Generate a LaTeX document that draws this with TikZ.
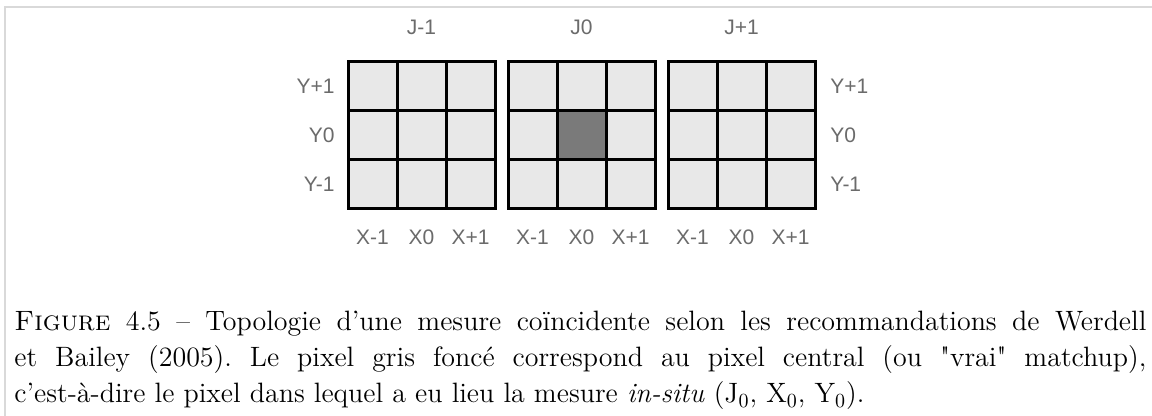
\documentclass[tikz,border=0pt]{standalone}
\usepackage{fontspec}
\newfontfamily\labelfont{Liberation Sans}
\newfontfamily\plainquote{Latin Modern Roman}[Ligatures=TeXOff]
\usepackage{tikz}

\begin{document}
\begin{tikzpicture}[
  x=0.5pt, y=-0.5pt,
  cell/.style={fill=black!9},
  hotcell/.style={fill=black!52},
  gridline/.style={draw=black, line width=1.5pt, line cap=rect},
  lbl/.style={font=\labelfont\fontsize{10.5}{12}\selectfont, text=black!58, inner sep=0pt},
  caption/.style={font=\fontsize{14}{18}\selectfont\frenchspacing, text width=566pt,
                  align=justify, inner sep=0pt, anchor=north west},
]

% --- fixed bounding box (white background) ---
\useasboundingbox (0,0) rectangle (1152,416);
\fill[white] (0,0) rectangle (1152,416);

% --- page frame ---
\draw[black!15, line width=0.75pt] (1152,7) -- (5,7) -- (5,416);

% ============================ WINDOWS ===============================
% three 3x3 windows: J-1 | J0 | J+1
\foreach \g/\lab in {0/J-1, 1/J0, 2/J+1} {
  \pgfmathsetmacro{\gx}{348+160*\g}
  \fill[cell] (\gx,62) rectangle ++(147,147);
  \ifnum\g=1
    \fill[hotcell] (\gx+49,111) rectangle ++(49,49);
  \fi
  \foreach \i in {0,...,3} {
    \draw[gridline] (\gx+49*\i,62) -- ++(0,147);
    \draw[gridline] (\gx,62+49*\i) -- ++(147,0);
  }
  \node[lbl] (top\g) at (\gx+73.5,27) {\lab};
  % columns under each window
  \foreach \c/\xl in {0/X-1, 1/X0, 2/X+1}
    \node[lbl] (xl\g\c) at (\gx+24.5+49*\c,237) {\xl};
}

% rows, left and right
\foreach \r/\yl in {0/Y+1, 1/Y0, 2/Y-1} {
  \node[lbl, anchor=east] (yl\r) at (335,86.5+49*\r) {\yl};
  \node[lbl, anchor=west] (yr\r) at (830,86.5+49*\r) {\yl};
}

% ============================ CAPTION ===============================
\node[caption] (cap) at (14,311)
  {\textsc{Figure} 4.5 -- Topologie d'une mesure coïncidente selon les
   recommandations de Werdell\linebreak et Bailey (2005). Le pixel gris
   foncé correspond au pixel central (ou {\plainquote"}vrai{\plainquote"}
   matchup),\linebreak
   c'est-à-dire le pixel dans lequel a eu lieu la mesure \textit{in-situ}
   (J$_0$, X$_0$, Y$_0$).};

\end{tikzpicture}
\end{document}
